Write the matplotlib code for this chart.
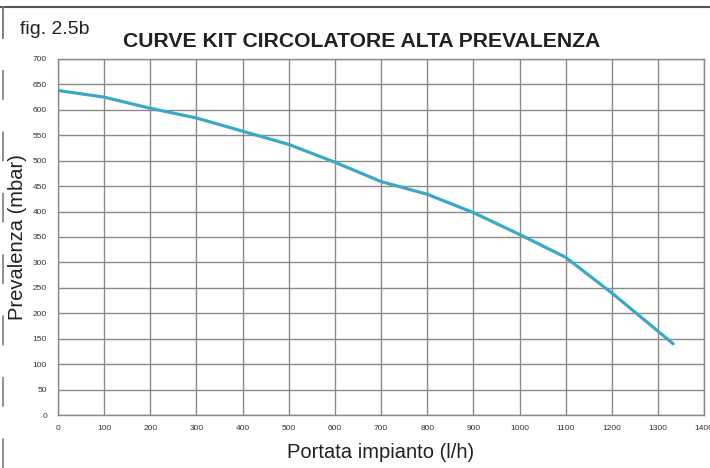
import matplotlib.pyplot as plt
from matplotlib.lines import Line2D

plt.rcParams['font.family'] = ['Liberation Sans', 'DejaVu Sans']

# curve
portata = [0, 100, 200, 300, 400, 500, 600, 700, 800, 900, 1000, 1100, 1200, 1333]
prevalenza = [638, 625, 603, 584, 558, 532, 497, 459, 434, 398, 355, 310, 240, 140]

x_ticks = list(range(0, 1500, 100))
y_ticks = list(range(0, 750, 50))

fig = plt.figure(figsize=(7.1, 4.68), dpi=100)
ax = fig.add_axes([0.0817, 0.1132, 0.9100, 0.7608])

ax.plot(portata, prevalenza, color='#3AA9C6', linewidth=2.3, solid_capstyle='round', zorder=3)

ax.set_xlim(0, 1400)
ax.set_ylim(0, 700)
ax.set_xticks(x_ticks)
ax.set_yticks(y_ticks)
ax.tick_params(axis='both', length=0, labelsize=6, colors='#333333')
ax.tick_params(axis='x', pad=7)
ax.tick_params(axis='y', pad=8)
for lab in ax.get_xticklabels():
    lab.set_clip_on(False)
ax.grid(True, color='#8a8a8a', linewidth=1.0)
for s in ax.spines.values():
    s.set_color('#8a8a8a')
    s.set_linewidth(1.0)

ax.set_xlabel('Portata impianto (l/h)', fontsize=14.5, color='#222222', labelpad=8)
ax.set_ylabel('Prevalenza (mbar)', fontsize=14.5, color='#222222', labelpad=4)

fig.text(0.510, 0.911, 'CURVE KIT CIRCOLATORE ALTA PREVALENZA', ha='center', va='center',
         fontsize=15.2, fontweight='bold', color='#222222')
fig.text(0.028, 0.937, 'fig. 2.5b', ha='left', va='center', fontsize=14, color='#222222')

# page frame pieces
fig.add_artist(Line2D([0, 1], [0.985, 0.985], transform=fig.transFigure, color='#555555', linewidth=1.5))
fig.add_artist(Line2D([0.004, 0.004], [0.985, 0.918], transform=fig.transFigure, color='#777777', linewidth=1.3))
dashed = Line2D([0.004, 0.004], [0.85, 0.0], transform=fig.transFigure, color='#888888', linewidth=1.3)
dashed.set_dashes([16.5, 17.5])
fig.add_artist(dashed)

fig.savefig('out.png', dpi=100)
